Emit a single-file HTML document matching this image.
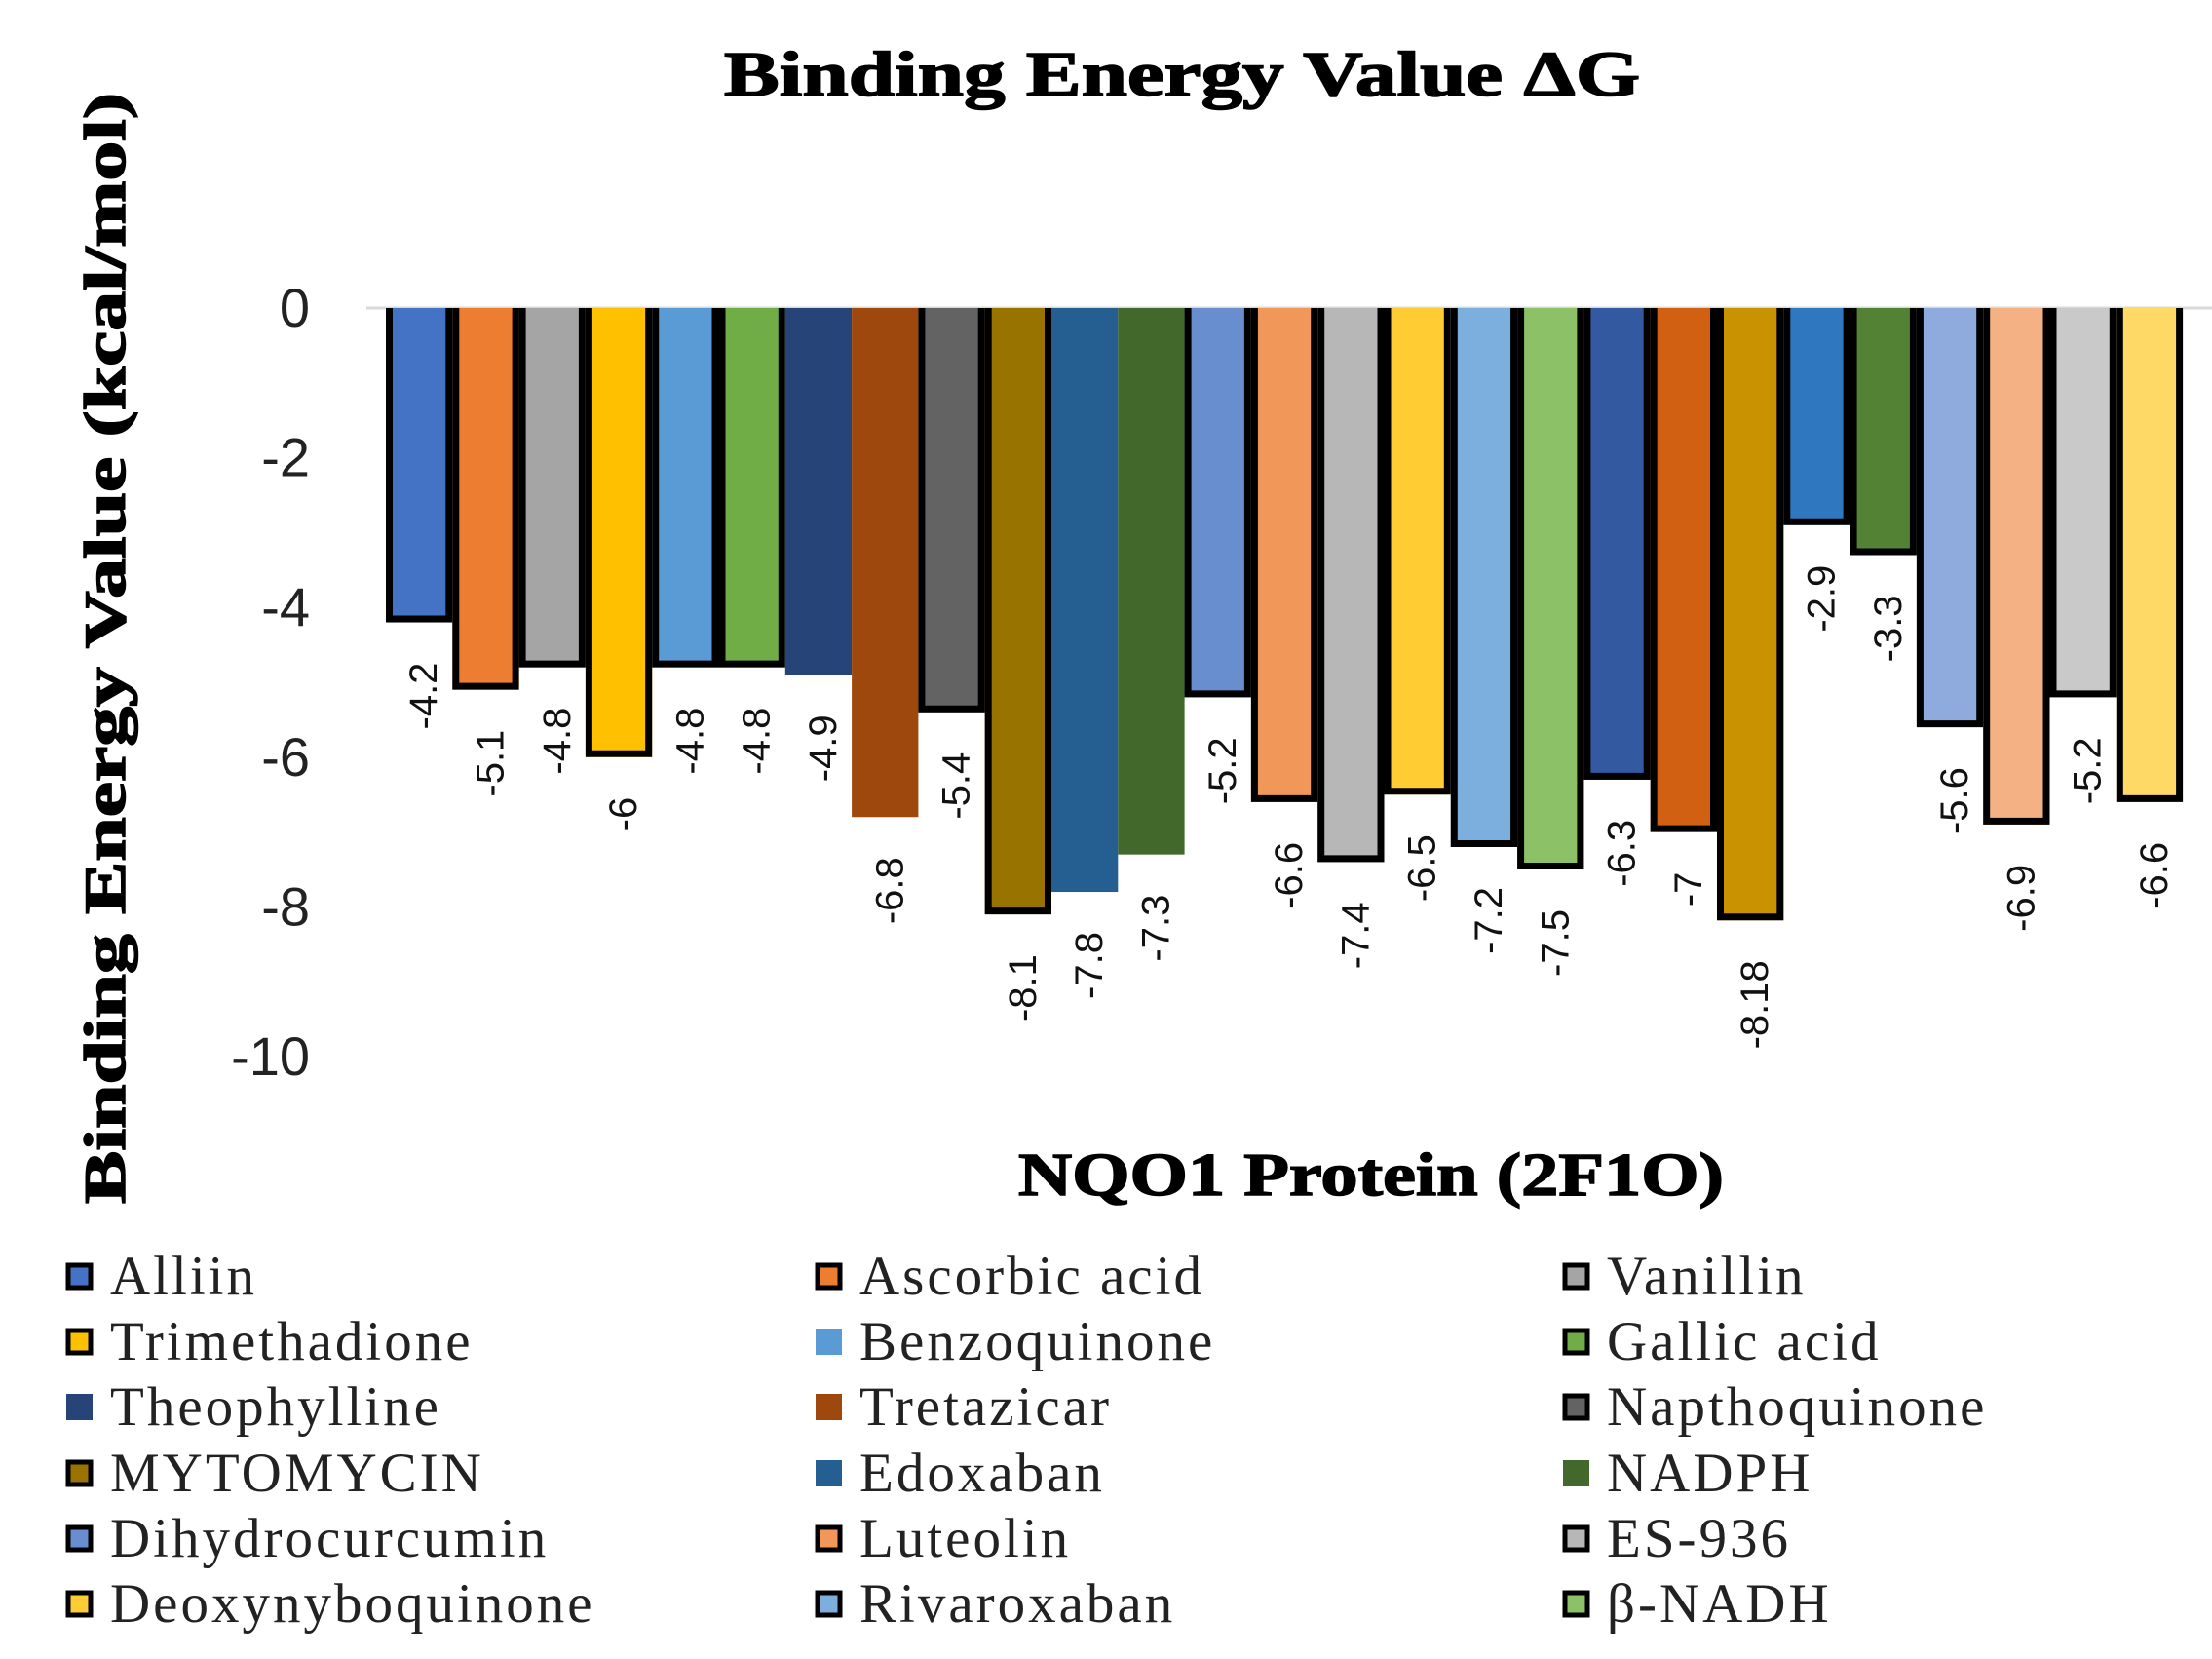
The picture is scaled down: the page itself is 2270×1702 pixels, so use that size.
<!DOCTYPE html>
<html><head><meta charset="utf-8"><style>
html,body{margin:0;padding:0;background:#fff;}
svg{display:block;}
</style></head><body>
<svg id="c" width="2270" height="1702" viewBox="0 0 2270 1702" xmlns="http://www.w3.org/2000/svg">
<rect width="2270" height="1702" fill="#fff"/>
<text x="1213" y="98" text-anchor="middle" font-family="Liberation Serif, serif" font-weight="bold" font-size="66" stroke="#000" stroke-width="1.5" textLength="940" lengthAdjust="spacingAndGlyphs">Binding Energy Value ΔG</text>
<text transform="translate(128,665) rotate(-90)" text-anchor="middle" font-family="Liberation Serif, serif" font-weight="bold" font-size="60" stroke="#000" stroke-width="1.5" textLength="1140" lengthAdjust="spacingAndGlyphs">Binding Energy Value (kcal/mol)</text>
<text x="1407" y="1226" text-anchor="middle" font-family="Liberation Serif, serif" font-weight="bold" font-size="62" stroke="#000" stroke-width="1.5" textLength="724" lengthAdjust="spacingAndGlyphs">NQO1 Protein (2F1O)</text>
<line x1="376" y1="316" x2="2270" y2="316" stroke="#d9d9d9" stroke-width="3"/>
<g id="ticks" font-family="Liberation Sans, sans-serif" font-size="56" text-anchor="end" fill="#222"></g>
<g id="bars"></g>
<g id="labels" font-family="Liberation Sans, sans-serif" font-size="40" fill="#111"></g>
<g id="legend" font-family="Liberation Serif, serif" font-size="57" letter-spacing="3" fill="#222"></g>
</svg>
<script>
var NS="http://www.w3.org/2000/svg";
function el(t,a,p,txt){var e=document.createElementNS(NS,t);for(var k in a)e.setAttribute(k,a[k]);if(txt!=null)e.textContent=txt;p.appendChild(e);return e;}
var Y0=316,S=76.8;
var tk=document.getElementById('ticks');
for(var v=0;v>=-10;v-=2){el('text',{x:318,y:Y0-v*S+19},tk,String(v));}
var vals=[-4.2,-5.1,-4.8,-6,-4.8,-4.8,-4.9,-6.8,-5.4,-8.1,-7.8,-7.3,-5.2,-6.6,-7.4,-6.5,-7.2,-7.5,-6.3,-7,-8.18,-2.9,-3.3,-5.6,-6.9,-5.2,-6.6];
var cols=["#4472C4","#ED7D31","#A5A5A5","#FFC000","#5B9BD5","#70AD47","#264478","#9E480E","#636363","#997300","#255E91","#43682B","#698ED0","#F1975A","#B7B7B7","#FFCD33","#7CAFDD","#8CC168","#335AA1","#D26012","#C99200","#2F78C0","#548235","#8FAADC","#F4B183","#C9C9C9","#FFD966"];
var nob={6:1,7:1,10:1,11:1};
var nobL={4:1,6:1,7:1,10:1,11:1};
var g=document.getElementById('bars'),lg=document.getElementById('labels');
var P=68.3,X0=396;
for(var i=0;i<vals.length;i++){
 var x=X0+i*P,h=-vals[i]*S,b=Y0+h;
 el('rect',{x:x,y:Y0,width:P,height:h,fill:cols[i]},g);
 if(!nob[i]){el('path',{d:'M'+(x+3.5)+' '+Y0+' V'+(b-3.5)+' H'+(x+P-3.5)+' V'+Y0,fill:'none',stroke:'#000','stroke-width':7},g);}
 var cx=x+P/2+4+14,ty=b+41;
 el('text',{transform:'translate('+cx+','+ty+') rotate(-90)','text-anchor':'end'},lg,String(vals[i]));
}
var names=["Alliin","Ascorbic acid","Vanillin","Trimethadione","Benzoquinone","Gallic acid","Theophylline","Tretazicar","Napthoquinone","MYTOMYCIN","Edoxaban","NADPH","Dihydrocurcumin","Luteolin","ES-936","Deoxynyboquinone","Rivaroxaban","β-NADH"];
var lgd=document.getElementById('legend');
var mx=[68,837,1604],rows=[1309,1376,1443,1511,1578,1645];
for(var j=0;j<names.length;j++){
 var c=j%3,r=Math.floor(j/3),yc=rows[r];
 if(nobL[j]) el('rect',{x:mx[c],y:yc-13,width:27,height:27,fill:cols[j]},lgd);
 else el('rect',{x:mx[c]+2,y:yc-11,width:23,height:23,fill:cols[j],stroke:'#000','stroke-width':5},lgd);
 el('text',{x:mx[c]+45,y:yc+19},lgd,names[j]);
}
</script>
</body></html>
